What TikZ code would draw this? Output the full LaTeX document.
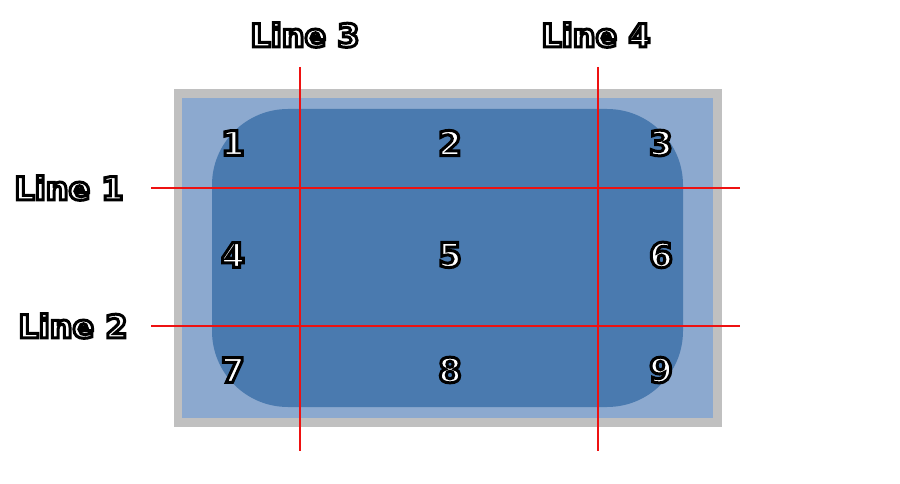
\documentclass[tikz,border=0pt]{standalone}
\usepackage{fontspec}
\setmainfont{DejaVu Sans}
\newfontfamily\lblfont{DejaVu Sans}[BoldFont=*  Bold]
\definecolor{bordergray}{HTML}{C0C0C0}
\definecolor{lightblue}{HTML}{8CA9CF}
\definecolor{darkblue}{HTML}{4A7AAF}
\definecolor{redline}{HTML}{EE1111}
\newcommand\outltext[1]{{\color{white}\special{pdf:literal direct 0 0 0 RG 2 Tr 3 w 0 j}#1\special{pdf:literal direct 0 Tr}}}
\begin{document}
\begin{tikzpicture}[x=1pt,y=-1pt,
  lbl/.style={inner sep=0pt,font=\lblfont\bfseries\fontsize{32}{32}\selectfont},
  num/.style={inner sep=0pt,font=\lblfont\bfseries\fontsize{34}{34}\selectfont},
  cut/.style={draw=redline,line width=1.3pt}]
\useasboundingbox (0,0) rectangle (900,484);
\fill[bordergray] (174,89) rectangle (722,427);
\fill[lightblue] (182,98) rectangle (713,418);
\fill[darkblue,rounded corners=76pt] (212,109) rectangle (683,407);
% cut lines
\coordinate (h1a) at (151,188); \coordinate (h1b) at (740,188);
\coordinate (h2a) at (151,326); \coordinate (h2b) at (740,326);
\coordinate (v3a) at (300,67);  \coordinate (v3b) at (300,451);
\coordinate (v4a) at (598,67);  \coordinate (v4b) at (598,451);
\draw[cut] (h1a) -- (h1b);
\draw[cut] (h2a) -- (h2b);
\draw[cut] (v3a) -- (v3b);
\draw[cut] (v4a) -- (v4b);
% labels
\node[lbl] (l1) at (69,188) {\outltext{Line 1}};
\node[lbl] (l2) at (73,326) {\outltext{Line 2}};
\node[lbl] (l3) at (305,35) {\outltext{Line 3}};
\node[lbl] (l4) at (596,35) {\outltext{Line 4}};
% numbers
\node[num] (n1) at (233,143) {\outltext{1}};
\node[num] (n2) at (450,143) {\outltext{2}};
\node[num] (n3) at (661,143) {\outltext{3}};
\node[num] (n4) at (233,255) {\outltext{4}};
\node[num] (n5) at (450,255) {\outltext{5}};
\node[num] (n6) at (661,255) {\outltext{6}};
\node[num] (n7) at (233,370) {\outltext{7}};
\node[num] (n8) at (450,370) {\outltext{8}};
\node[num] (n9) at (661,370) {\outltext{9}};
\end{tikzpicture}
\end{document}
